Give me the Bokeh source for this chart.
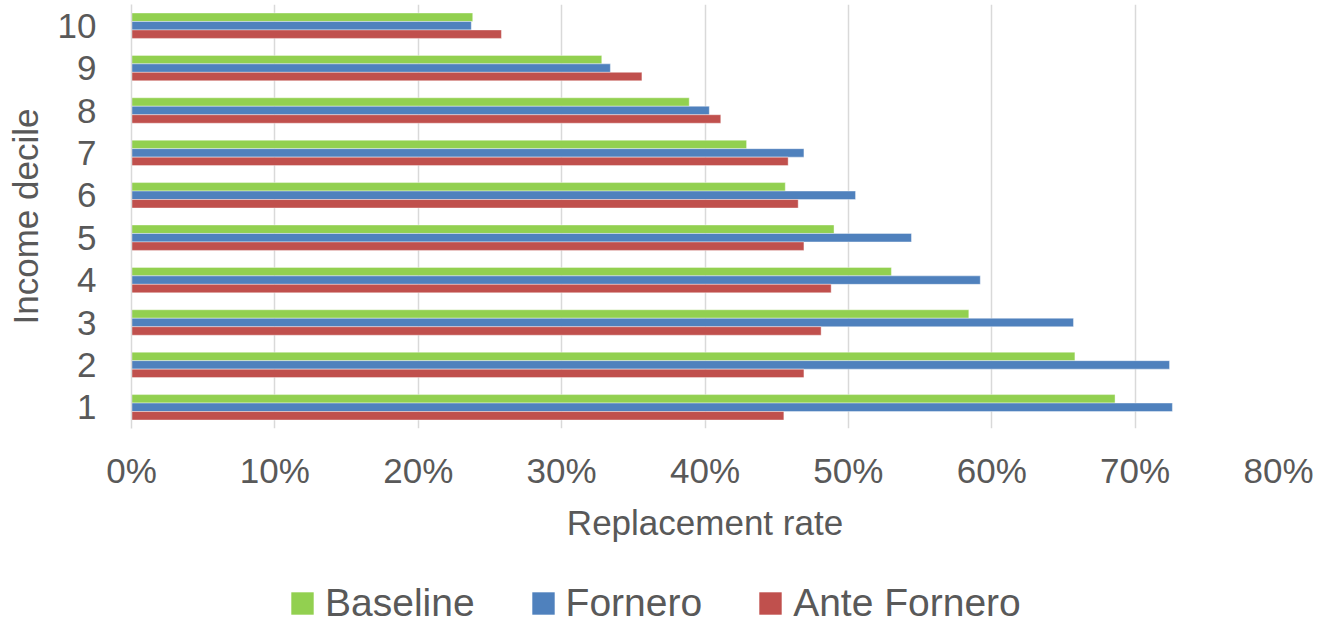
from bokeh.plotting import figure
from bokeh.layouts import column
from bokeh.models import (ColumnDataSource, FixedTicker, NumeralTickFormatter,
                          Legend, LegendItem, Range1d)
from bokeh.embed import file_html
from bokeh.resources import INLINE

# Replacement rate by income decile under three pension regimes
deciles = [1, 2, 3, 4, 5, 6, 7, 8, 9, 10]
baseline = [0.686, 0.658, 0.584, 0.530, 0.490, 0.456, 0.429, 0.389, 0.328, 0.238]
fornero = [0.726, 0.724, 0.657, 0.592, 0.544, 0.505, 0.469, 0.403, 0.334, 0.237]
ante_fornero = [0.455, 0.469, 0.481, 0.488, 0.469, 0.465, 0.458, 0.411, 0.356, 0.258]
series_names = ["Baseline", "Fornero", "Ante Fornero"]
x_ticks = [0.0, 0.1, 0.2, 0.3, 0.4, 0.5, 0.6, 0.7, 0.8]

colors = ["#92D050", "#4F81BD", "#C0504D"]
offsets = [0.2, 0.0, -0.2]
bar_h = 0.2
FONT = "Liberation Sans"
TEXT = "#595959"

p = figure(width=1319, height=545, output_backend="svg", toolbar_location=None,
           x_range=Range1d(0, 0.8), y_range=Range1d(0.5, 10.5),
           min_border_left=131, min_border_right=41,
           min_border_top=4, min_border_bottom=117)
p.outline_line_color = None
p.background_fill_color = "white"
p.border_fill_color = "white"

for vals, off, col in zip([baseline, fornero, ante_fornero], offsets, colors):
    src = ColumnDataSource(dict(y=[d + off for d in deciles], right=vals))
    p.hbar(y="y", left=0, right="right", height=bar_h, source=src,
           fill_color=col, line_color="white", line_alpha=0.5, line_width=0.8)

# value axis (bottom)
p.xaxis.ticker = FixedTicker(ticks=x_ticks)
p.xaxis.formatter = NumeralTickFormatter(format="0%")
p.xaxis.axis_line_color = None
p.xaxis.major_tick_line_color = None
p.xaxis.minor_tick_line_color = None
p.xaxis.major_label_standoff = 16
p.xaxis.major_label_text_font = FONT
p.xaxis.major_label_text_font_size = "35px"
p.xaxis.major_label_text_color = TEXT
p.xaxis.axis_label = "Replacement rate"
p.xaxis.axis_label_text_font = FONT
p.xaxis.axis_label_text_font_size = "35px"
p.xaxis.axis_label_text_font_style = "normal"
p.xaxis.axis_label_text_color = TEXT
p.xaxis.axis_label_standoff = 10

# category axis (left)
p.yaxis.ticker = FixedTicker(ticks=deciles)
p.yaxis.axis_line_color = "#D9D9D9"
p.yaxis.axis_line_width = 1.5
p.yaxis.major_tick_line_color = None
p.yaxis.minor_tick_line_color = None
p.yaxis.major_label_standoff = 29
p.yaxis.major_label_text_font = FONT
p.yaxis.major_label_text_font_size = "35px"
p.yaxis.major_label_text_color = TEXT
p.yaxis.axis_label = "Income decile"
p.yaxis.axis_label_text_font = FONT
p.yaxis.axis_label_text_font_size = "35px"
p.yaxis.axis_label_text_font_style = "normal"
p.yaxis.axis_label_text_color = TEXT
p.yaxis.axis_label_standoff = 10

p.xgrid.ticker = FixedTicker(ticks=x_ticks)
p.xgrid.grid_line_color = "#D9D9D9"
p.xgrid.grid_line_width = 1.5
p.ygrid.grid_line_color = None

# legend strip under the chart; the key bars sit outside the visible range
lg = figure(width=1319, height=80, output_backend="svg", toolbar_location=None,
            x_range=Range1d(0, 1), y_range=Range1d(0, 1),
            x_axis_type=None, y_axis_type=None,
            min_border_left=0, min_border_right=0, min_border_top=0, min_border_bottom=0)
lg.outline_line_color = None
lg.grid.grid_line_color = None
key_renderers = []
for col in colors:
    key_src = ColumnDataSource(dict(y=[-5], right=[-4]))
    key_renderers.append(lg.hbar(y="y", left=-5, right="right", height=0.1, source=key_src,
                                 fill_color=col, line_color=None))

legend = Legend(items=[LegendItem(label=n, renderers=[r]) for n, r in zip(series_names, key_renderers)],
                orientation="horizontal", location=(157, 0),
                glyph_width=28, glyph_height=28, label_standoff=9, spacing=54,
                padding=0, margin=0, border_line_color=None, background_fill_alpha=0,
                label_text_font=FONT, label_text_font_size="39px", label_text_color=TEXT)
lg.add_layout(legend, "center")

layout = column(p, lg, spacing=0)
open("out.html", "w").write(file_html(layout, INLINE))
